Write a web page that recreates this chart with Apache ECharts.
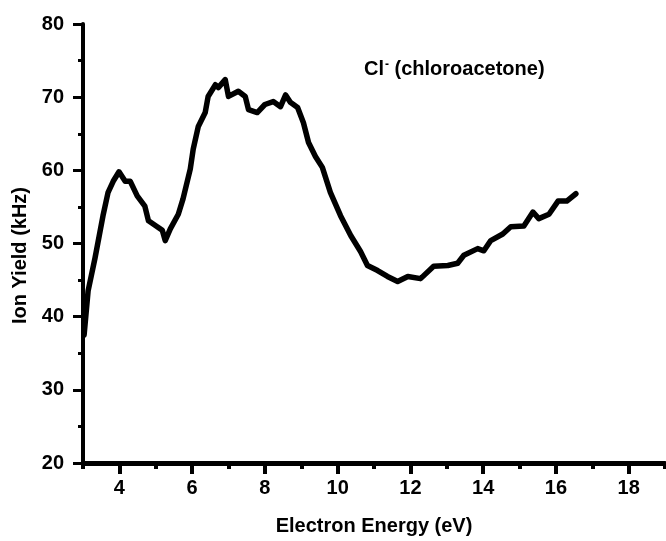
<!DOCTYPE html>
<html>
<head>
<meta charset="utf-8">
<script src="https://cdn.jsdelivr.net/npm/echarts@6/dist/echarts.min.js"></script>
<style>
html,body{margin:0;padding:0;background:#fff;}
#chart{width:666px;height:541px;}
</style>
</head>
<body>
<div id="chart"></div>
<script>
// Electron energy (eV)
const energy = [3.03,3.14,3.33,3.55,3.69,3.83,3.99,4.16,4.30,4.49,4.70,4.80,5.04,5.18,5.26,5.40,5.62,5.75,5.95,6.03,6.17,6.36,6.44,6.64,6.72,6.91,7.00,7.27,7.46,7.55,7.79,8.00,8.23,8.43,8.57,8.70,8.90,9.06,9.20,9.39,9.58,9.80,10.08,10.36,10.63,10.82,11.10,11.37,11.65,11.93,12.28,12.64,13.03,13.30,13.47,13.85,14.02,14.21,14.54,14.76,15.12,15.37,15.53,15.81,16.06,16.30,16.55];
// Ion yield (kHz)
const ionYield = [37.5,43.5,48.0,53.8,57.0,58.5,59.8,58.5,58.5,56.5,55.1,53.1,52.3,51.8,50.4,52.0,54.0,56.1,60.2,62.9,66.0,67.9,70.1,71.7,71.3,72.4,70.1,70.8,70.1,68.3,67.9,69.0,69.4,68.7,70.3,69.3,68.6,66.5,63.8,61.9,60.4,57.0,53.8,51.1,48.9,47.0,46.3,45.5,44.8,45.5,45.2,46.9,47.0,47.3,48.4,49.3,49.0,50.4,51.3,52.3,52.4,54.3,53.4,54.0,55.8,55.8,56.8];
const xMajorTicks = [4,6,8,10,12,14,16,18];
const xMinorTicks = [3,5,7,9,11,13,15,17,19];
const yTicks = [20,30,40,50,60,70,80];
const xTitle = 'Electron Energy (eV)';
const yTitle = 'Ion Yield (kHz)';

const FONT = '"Liberation Sans", Arial, sans-serif';
const chart = echarts.init(document.getElementById('chart'), null, {renderer:'canvas'});
const seriesData = energy.map((e,i)=>[e, ionYield[i]]);

chart.setOption({
  animation:false,
  backgroundColor:'#fff',
  grid:{left:83, right:1, top:24, bottom:75, containLabel:false},
  xAxis:[{
    type:'value', min:3, max:19, interval:1,
    axisLine:{show:true, onZero:false, lineStyle:{color:'#000', width:5}},
    axisTick:{show:true, customValues:xMajorTicks, length:11, lineStyle:{color:'#000', width:4}},
    axisLabel:{show:true, customValues:xMajorTicks, margin:15, color:'#000', fontSize:20, fontWeight:'bold', fontFamily:FONT},
    splitLine:{show:false},
    name:xTitle, nameLocation:'middle', nameGap:53,
    nameTextStyle:{color:'#000', fontSize:20, fontWeight:'bold', fontFamily:FONT}
  },{
    type:'value', min:3, max:19, interval:1, position:'bottom',
    axisLine:{show:false},
    axisTick:{show:true, customValues:xMinorTicks, length:6, lineStyle:{color:'#000', width:4}},
    axisLabel:{show:false},
    splitLine:{show:false}
  }],
  yAxis:{
    type:'value', min:20, max:80, interval:10,
    axisLine:{show:true, onZero:false, lineStyle:{color:'#000', width:4}},
    axisTick:{show:true, length:10, lineStyle:{color:'#000', width:3}},
    minorTick:{show:true, splitNumber:2, length:5, lineStyle:{color:'#000', width:3}},
    axisLabel:{margin:19, color:'#000', fontSize:20, fontWeight:'bold', fontFamily:FONT, customValues:yTicks},
    splitLine:{show:false},
    name:yTitle, nameLocation:'middle', nameGap:53, nameRotate:90,
    nameTextStyle:{color:'#000', fontSize:20, fontWeight:'bold', fontFamily:FONT, padding:[0,24,0,0]}
  },
  graphic:[{
    type:'text', left:364, top:59, z:10,
    style:{
      text:'{a|Cl}{s|-}{a| (chloroacetone)}',
      fill:'#000', font:'bold 20px '+FONT,
      rich:{
        a:{fontSize:20, fontWeight:'bold', fontFamily:FONT, fill:'#000'},
        s:{fontSize:12, fontWeight:'bold', fontFamily:FONT, fill:'#000', verticalAlign:'top', padding:[0,0,8,1]}
      }
    }
  }],
  series:[{
    type:'line', xAxisIndex:0, data:seriesData, showSymbol:false, symbol:'none',
    lineStyle:{color:'#000', width:5.5, join:'round', cap:'round'},
    clip:false
  }]
});
</script>
</body>
</html>
